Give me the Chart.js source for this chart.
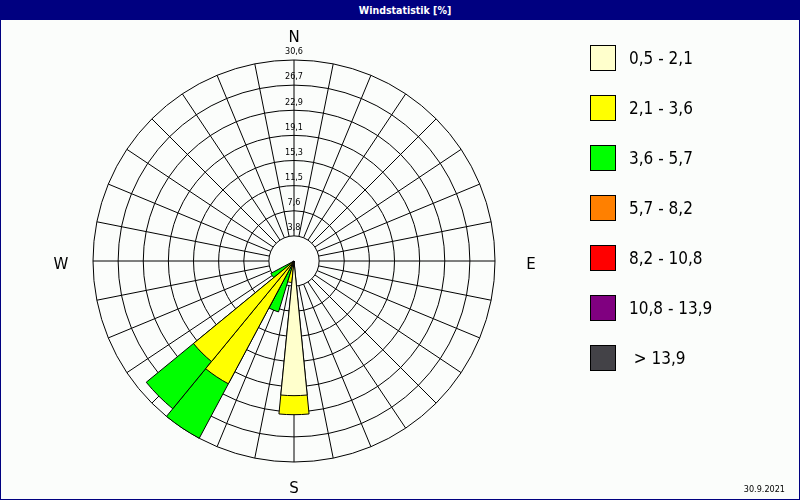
<!DOCTYPE html>
<html>
<head>
<meta charset="utf-8">
<title>Windstatistik</title>
<script src="https://cdn.jsdelivr.net/npm/chart.js@4.4.1/dist/chart.umd.min.js"></script>
<style>
  html, body { margin: 0; padding: 0; }
  body {
    width: 800px; height: 500px; position: relative; overflow: hidden;
    background: #fbfdfb;
    font-family: "DejaVu Sans Condensed", "DejaVu Sans", sans-serif;
  }
  #frame {
    position: absolute; left: 0; top: 0; width: 800px; height: 500px;
    box-sizing: border-box; border: 1px solid #000080;
  }
  #titlebar {
    position: absolute; left: 0; top: 0; width: 800px; height: 20px;
    background: #000080; color: #fff;
    font: bold 10.5px "DejaVu Sans Condensed", "DejaVu Sans", sans-serif;
    line-height: 20px; text-align: center; box-sizing: border-box; padding-left: 10px;
  }
  #rose { position: absolute; left: 0; top: 0; }
  .lg-box {
    position: absolute; left: 590px; width: 24px; height: 24px;
    border: 1px solid #000;
  }
  .lg-text {
    position: absolute; left: 629px; height: 26px; line-height: 26px;
    font-size: 17px; color: #000; white-space: pre;
  }
  #date {
    position: absolute; right: 15px; top: 483px; font-size: 9px; line-height: 12px; color: #000;
  }
</style>
</head>
<body>
<div id="frame"></div>
<canvas id="rose" width="800" height="500"></canvas>
<div id="titlebar">Windstatistik [%]</div>
<div id="legend"></div>
<div id="date">30.9.2021</div>
<script>
// 32 Windrichtungen, im Uhrzeigersinn ab Nord
const directions = ['N', 'NzO', 'NNO', 'NOzN', 'NO', 'NOzO', 'ONO', 'OzN',
                    'O', 'OzS', 'OSO', 'SOzO', 'SO', 'SOzS', 'SSO', 'SzO',
                    'S', 'SzW', 'SSW', 'SWzS', 'SW', 'SWzW', 'WSW', 'WzS',
                    'W', 'WzN', 'WNW', 'NWzW', 'NW', 'NWzN', 'NNW', 'NzW'];

// Windgeschwindigkeitsklassen
const classLabels = ['0,5 - 2,1', '2,1 - 3,6', '3,6 - 5,7', '5,7 - 8,2', '8,2 - 10,8', '10,8 - 13,9', ' > 13,9'];
const classColors = ['#ffffcc', '#ffff00', '#00ff00', '#ff8000', '#ff0000', '#800080', '#434247'];

// Häufigkeit in % pro Richtung und Klasse
const cls1 = [0, 0, 0, 0, 0, 0, 0, 0, 0, 0, 0, 0, 0, 0, 0, 0,
              20.5, 0, 0, 0, 0, 0, 0, 0, 0, 0, 0, 0, 0, 0, 0, 0];
const cls2 = [0, 0, 0, 0, 0, 0, 0, 0, 0, 0, 0, 0, 0, 0, 0, 0,
              2.9, 3.3, 0, 21.2, 19.8, 0, 0, 0, 0, 0, 0, 0, 0, 0, 0, 0];
const cls3 = [0, 0, 0, 0, 0, 0, 0, 0, 0, 0, 0, 0, 0, 0, 0, 0,
              0, 0, 8.1, 9.4, 9.3, 4.0, 0, 0, 0, 0, 0, 0, 0, 0, 0, 0];
const cls4 = [0, 0, 0, 0, 0, 0, 0, 0, 0, 0, 0, 0, 0, 0, 0, 0,
              0, 0, 0, 0, 0, 0, 0, 0, 0, 0, 0, 0, 0, 0, 0, 0];
const cls5 = [0, 0, 0, 0, 0, 0, 0, 0, 0, 0, 0, 0, 0, 0, 0, 0,
              0, 0, 0, 0, 0, 0, 0, 0, 0, 0, 0, 0, 0, 0, 0, 0];
const cls6 = [0, 0, 0, 0, 0, 0, 0, 0, 0, 0, 0, 0, 0, 0, 0, 0,
              0, 0, 0, 0, 0, 0, 0, 0, 0, 0, 0, 0, 0, 0, 0, 0];
const cls7 = [0, 0, 0, 0, 0, 0, 0, 0, 0, 0, 0, 0, 0, 0, 0, 0,
              0, 0, 0, 0, 0, 0, 0, 0, 0, 0, 0, 0, 0, 0, 0, 0];

// Ringbeschriftung
const maxValue = 30.6;
const tickLabels = ['3,8', '7,6', '11,5', '15,3', '19,1', '22,9', '26,7', '30,6'];
const compassLabels = ['N', 'E', 'S', 'W'];

const classValues = [cls1, cls2, cls3, cls4, cls5, cls6, cls7];
const tickValues = [0].concat(tickLabels.map((t, i) => (i + 1) * maxValue / tickLabels.length));

// Kumulierte Werte: kleinste Klasse liegt oben (Datensatz 0 wird zuletzt gezeichnet)
const datasets = classLabels.map((label, c) => ({
    label: label,
    data: directions.map((d, i) => {
        if (!classValues[c][i]) return null;
        let sum = 0;
        for (let k = 0; k <= c; k++) sum += classValues[k][i];
        return sum;
    }),
    backgroundColor: classColors[c],
    borderColor: '#000',
    borderWidth: ctx => (ctx.raw == null ? 0 : 1)
}));

// Speichen, Ringbeschriftung und Himmelsrichtungen
const roseGrid = {
    id: 'roseGrid',
    beforeDatasetsDraw(chart) {
        const s = chart.scales.r;
        const ctx = chart.ctx;
        const inner = s.getDistanceFromCenterForValue(tickValues[1]);
        const outer = s.getDistanceFromCenterForValue(s.max);
        const half = Math.PI / directions.length;
        ctx.save();
        ctx.strokeStyle = '#000';
        ctx.lineWidth = 1;
        ctx.beginPath();
        directions.forEach((d, i) => {
            const a = s.getIndexAngle(i) + half - Math.PI / 2;
            ctx.moveTo(s.xCenter + Math.cos(a) * inner, s.yCenter + Math.sin(a) * inner);
            ctx.lineTo(s.xCenter + Math.cos(a) * outer, s.yCenter + Math.sin(a) * outer);
        });
        ctx.stroke();

        ctx.fillStyle = '#000';
        ctx.font = '9px "DejaVu Sans Condensed", "DejaVu Sans", sans-serif';
        ctx.textAlign = 'center';
        ctx.textBaseline = 'middle';
        tickLabels.forEach((t, i) => {
            const r = s.getDistanceFromCenterForValue(tickValues[i + 1]);
            ctx.fillText(t, s.xCenter, s.yCenter - r - 8);
        });
        ctx.restore();
    },
    afterDraw(chart) {
        const s = chart.scales.r;
        const ctx = chart.ctx;
        const outer = s.getDistanceFromCenterForValue(s.max);
        const gaps = [23, 36, 27, 32];
        const drop = [1, 4, 0, 4];
        ctx.save();
        ctx.fillStyle = '#000';
        ctx.font = '15px "DejaVu Sans", sans-serif';
        ctx.textAlign = 'center';
        ctx.textBaseline = 'middle';
        compassLabels.forEach((t, i) => {
            const a = i * Math.PI / 2 - Math.PI / 2;
            const r = outer + gaps[i];
            ctx.fillText(t, s.xCenter + Math.cos(a) * r, s.yCenter + Math.sin(a) * r + drop[i]);
        });
        ctx.restore();
    }
};

new Chart(document.getElementById('rose'), {
    type: 'polarArea',
    data: {
        labels: directions,
        datasets: datasets
    },
    options: {
        responsive: false,
        animation: false,
        events: [],
        layout: {
            padding: { left: 93, right: 305, top: 22, bottom: 0 }
        },
        plugins: {
            legend: { display: false },
            tooltip: { enabled: false }
        },
        scales: {
            r: {
                min: 0,
                max: maxValue,
                startAngle: -180 / directions.length,
                afterBuildTicks: function(scale) {
                    scale.ticks = tickValues.map(v => ({ value: v }));
                },
                ticks: { display: false },
                grid: { circular: true, color: '#000', lineWidth: 1 },
                angleLines: { display: false },
                pointLabels: { display: false }
            }
        }
    },
    plugins: [roseGrid]
});

// Legende
const legend = document.getElementById('legend');
classLabels.forEach((label, i) => {
    const box = document.createElement('div');
    box.className = 'lg-box';
    box.style.top = (45 + i * 50) + 'px';
    box.style.background = classColors[i];
    legend.appendChild(box);
    const text = document.createElement('div');
    text.className = 'lg-text';
    text.style.top = (45 + i * 50) + 'px';
    text.textContent = label;
    legend.appendChild(text);
});
</script>
</body>
</html>
